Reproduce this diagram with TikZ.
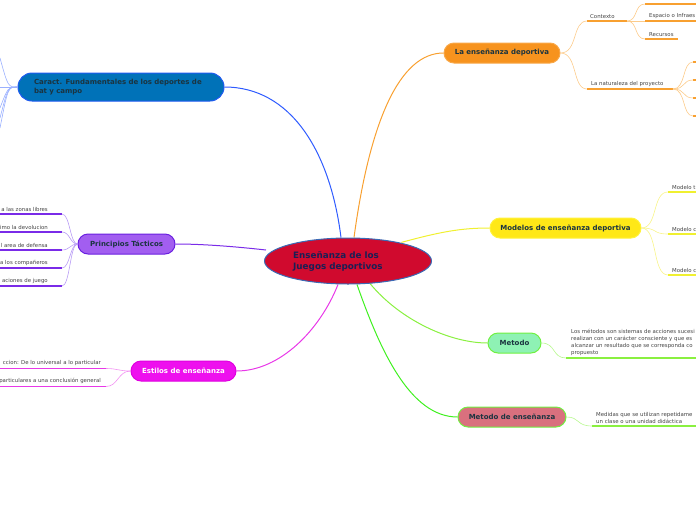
\documentclass[tikz,border=0pt]{standalone}
\usepackage{fontspec}
\setmainfont{DejaVu Sans}
\usetikzlibrary{shapes.geometric,backgrounds}
\definecolor{nodetxt}{HTML}{1B3440}
\definecolor{ctxt}{HTML}{1A1F55}
\definecolor{smalltxt}{HTML}{444444}
\definecolor{cfill}{HTML}{D00A2E}
\definecolor{cborder}{HTML}{3A6AB5}
\definecolor{bfill}{HTML}{0072B8}
\definecolor{bborder}{HTML}{1E5AF0}
\definecolor{bline}{HTML}{2E5BFF}
\definecolor{blight}{HTML}{9AB0FF}
\definecolor{pfill}{HTML}{A25EF0}
\definecolor{pborder}{HTML}{6A20E0}
\definecolor{pline}{HTML}{7A2BE8}
\definecolor{plight}{HTML}{B89CF5}
\definecolor{mfill}{HTML}{EE10EE}
\definecolor{mborder}{HTML}{E000E0}
\definecolor{mline}{HTML}{E838E8}
\definecolor{mlight}{HTML}{F290F2}
\definecolor{ofill}{HTML}{F7931E}
\definecolor{oborder}{HTML}{F9A848}
\definecolor{oline}{HTML}{F8A030}
\definecolor{olight}{HTML}{FCCB8A}
\definecolor{yfill}{HTML}{FFE817}
\definecolor{yborder}{HTML}{FFF23A}
\definecolor{yline}{HTML}{F0F030}
\definecolor{ylight}{HTML}{F8F48A}
\definecolor{gfill}{HTML}{8EF2B4}
\definecolor{gborder}{HTML}{70F040}
\definecolor{gline}{HTML}{8AF040}
\definecolor{glight}{HTML}{B8F890}
\definecolor{rfill}{HTML}{D9707E}
\definecolor{gline2}{HTML}{40F020}
\tikzset{
  topic/.style={rounded corners=10pt, minimum height=20pt, inner sep=0pt, line width=1pt, font=\fontsize{7}{9}\selectfont\bfseries, text=nodetxt},
  lbl/.style={inner sep=0pt, font=\fontsize{5.4}{6.5}\selectfont, text=smalltxt},
  conn/.style={line width=1pt},
  sub/.style={line width=0.6pt},
  uline/.style={line width=1.4pt},
}
\begin{document}
\begin{tikzpicture}[x=1pt,y=-1pt]
\useasboundingbox (0,0) rectangle (696,520);
\clip (0,0) rectangle (696,520);

% central node
\node[ellipse, draw=cborder, fill=cfill, line width=1pt, minimum width=167pt, minimum height=46pt, inner sep=0pt] (hub) at (348,261) {};
\node[anchor=west, inner sep=0pt, align=left, text=ctxt, font=\fontsize{8.8}{11}\selectfont\bfseries] (ctext) at (293,262) {Enseñanza de los\\Juegos deportivos};

% topics
\node[topic, draw=bborder, fill=bfill, minimum width=206pt, minimum height=28pt, rounded corners=14pt, text width=174pt, align=left] (caract) at (121,87) {Caract. Fundamentales de los deportes de\\bat y campo};
\node[topic, draw=pborder, fill=pfill, minimum width=97pt] (princ) at (126.5,244) {Principios Tácticos};
\node[topic, draw=mborder, fill=mfill, minimum width=105pt, text=white] (estilos) at (183.5,371) {Estilos de enseñanza};
\node[topic, draw=oborder, fill=ofill, minimum width=116pt] (laens) at (502,53) {La enseñanza deportiva};
\node[topic, draw=yborder, fill=yfill, minimum width=151pt] (modelos) at (565.5,228) {Modelos de enseñanza deportiva};
\node[topic, draw=gborder, fill=gfill, minimum width=53pt] (metodo) at (514.5,343) {Metodo};
\node[topic, draw=gborder, fill=rfill, minimum width=108pt] (metens) at (512,417) {Metodo de enseñanza};

% main connectors (behind the nodes)
\begin{pgfonlayer}{background}
\coordinate (c1) at ([xshift=-7pt]hub.north);
\coordinate (c2) at ([xshift=6pt]hub.north);
\coordinate (c3) at ([shift={(-6pt,2pt)}]hub.north east);
\coordinate (c4) at ([shift={(22pt,1pt)}]hub.south);
\coordinate (c5) at ([xshift=9pt]hub.south);
\coordinate (c6) at ([xshift=-10pt]hub.south);
\coordinate (c7) at ([shift={(2pt,11pt)}]hub.west);
\draw[conn, bline] (c1) .. controls (330,150) and (290,87) .. (caract.east);
\draw[conn, oline] (c2) .. controls (370,120) and (400,53) .. (laens.west);
\draw[conn, yline] (c3) .. controls (440,232) and (460,228) .. (modelos.west);
\draw[conn, gline] (c4) .. controls (400,320) and (450,343) .. (metodo.west);
\draw[conn, gline2] (c5) .. controls (380,350) and (410,417) .. (metens.west);
\draw[conn, mline] (c6) .. controls (320,330) and (280,371) .. (estilos.east);
\draw[conn, pline] (c7) .. controls (230,246) and (200,244) .. (princ.east);
\end{pgfonlayer}

% Caract children (off page)
\coordinate (k1) at (0,58);
\coordinate (k2) at (0,87);
\coordinate (k3) at (0,108);
\coordinate (k4) at (0,118);
\coordinate (k5) at (0,128);
\foreach \k in {k1,k2,k3,k4,k5}
  \draw[sub, blight] (caract.west) .. controls (8,87) and (8,87) .. (\k);

% Principios children
\foreach \i/\y/\t in {1/214/a las zonas libres, 2/232/imo la devolucion, 3/250/l area de defensa, 4/268/a los compañeros, 5/286/aciones de juego}{
  \coordinate (pa\i) at (62,\y);
  \coordinate (pb\i) at (0,\y);
  \draw[uline, pline] (pb\i) -- (pa\i);
  \draw[sub, plight] (princ.west) .. controls (70,244) and (70,\y) .. (pa\i);
  \node[lbl, anchor=south east] at (48,\y-2.5) {\t};
}

% Estilos children
\foreach \i/\y/\t in {1/368.5/ccion: De lo universal a lo particular, 2/386.5/particulares a una conclusión general}{
  \coordinate (ea\i) at (106,\y);
  \coordinate (eb\i) at (0,\y);
  \draw[uline, mline] (eb\i) -- (ea\i);
  \draw[sub, mlight] (estilos.west) .. controls (118,371) and (118,\y) .. (ea\i);
  \node[lbl, anchor=south east] at (101,\y-2.5) {\t};
}

% La ensenanza children
\coordinate (ctxA) at (587,21);
\coordinate (ctxB) at (627,21);
\draw[uline, oline] (ctxA) -- (ctxB);
\node[lbl, anchor=south west] (ctx) at (590,18.5) {Contexto};
\draw[sub, olight] (laens.east) .. controls (578,53) and (572,21) .. (ctxA);
\coordinate (natA) at (587,89);
\coordinate (natB) at (673,89);
\draw[uline, oline] (natA) -- (natB);
\node[lbl, anchor=south west] (nat) at (591,86.5) {La naturaleza del proyecto};
\draw[sub, olight] (laens.east) .. controls (578,53) and (572,89) .. (natA);

\coordinate (x1a) at (645,4);   \coordinate (x1b) at (696,4);
\coordinate (x2a) at (645,21);  \coordinate (x2b) at (696,21);
\coordinate (x3a) at (645,39);  \coordinate (x3b) at (678,39);
\draw[uline, oline] (x1a) -- (x1b);
\draw[uline, oline] (x2a) -- (x2b);
\draw[uline, oline] (x3a) -- (x3b);
\node[lbl, anchor=south west] at (649,18.5) {Espacio o Infraes};
\node[lbl, anchor=south west] at (649,36.5) {Recursos};
\draw[sub, olight] (ctxB) .. controls (638,21) and (634,4) .. (x1a);
\draw[sub, olight] (ctxB) -- (x2a);
\draw[sub, olight] (ctxB) .. controls (638,21) and (634,39) .. (x3a);

\foreach \i/\y in {1/62,2/80,3/98,4/116}{
  \coordinate (na\i) at (693,\y);
  \coordinate (nb\i) at (696,\y);
  \draw[uline, oline] (na\i) -- (nb\i);
  \draw[sub, olight] (natB) .. controls (686,89) and (682,\y) .. (na\i);
}

% Modelos children
\foreach \i/\y/\t in {1/192/Modelo t, 2/234/Modelo c, 3/275/Modelo c}{
  \coordinate (ma\i) at (668,\y);
  \coordinate (mb\i) at (696,\y);
  \draw[uline, yline] (ma\i) -- (mb\i);
  \draw[sub, ylight] (modelos.east) .. controls (658,228) and (652,\y) .. (ma\i);
  \node[lbl, anchor=south west] at (672,\y-2.5) {\t};
}

% Metodo child
\coordinate (mtA) at (566,358);
\coordinate (mtB) at (696,358);
\draw[uline, gline] (mtA) -- (mtB);
\draw[sub, glight] (metodo.east) .. controls (556,343) and (552,358) .. (mtA);
\node[lbl, anchor=south west, align=left, font=\fontsize{5.4}{6.8}\selectfont] (mttext) at (571,355.5) {Los métodos son sistemas de acciones sucesi\\realizan con un carácter consciente y que es\\alcanzar un resultado que se corresponda co\\propuesto};

% Metodo de ensenanza child
\coordinate (meA) at (592,426);
\coordinate (meB) at (696,426);
\draw[uline, gline] (meA) -- (meB);
\draw[sub, glight] (metens.east) .. controls (580,417) and (576,426) .. (meA);
\node[lbl, anchor=south west, align=left, font=\fontsize{5.4}{6.8}\selectfont] (metext) at (596,423.5) {Medidas que se utilizan repetidame\\un clase o una unidad didáctica};
\end{tikzpicture}
\end{document}
